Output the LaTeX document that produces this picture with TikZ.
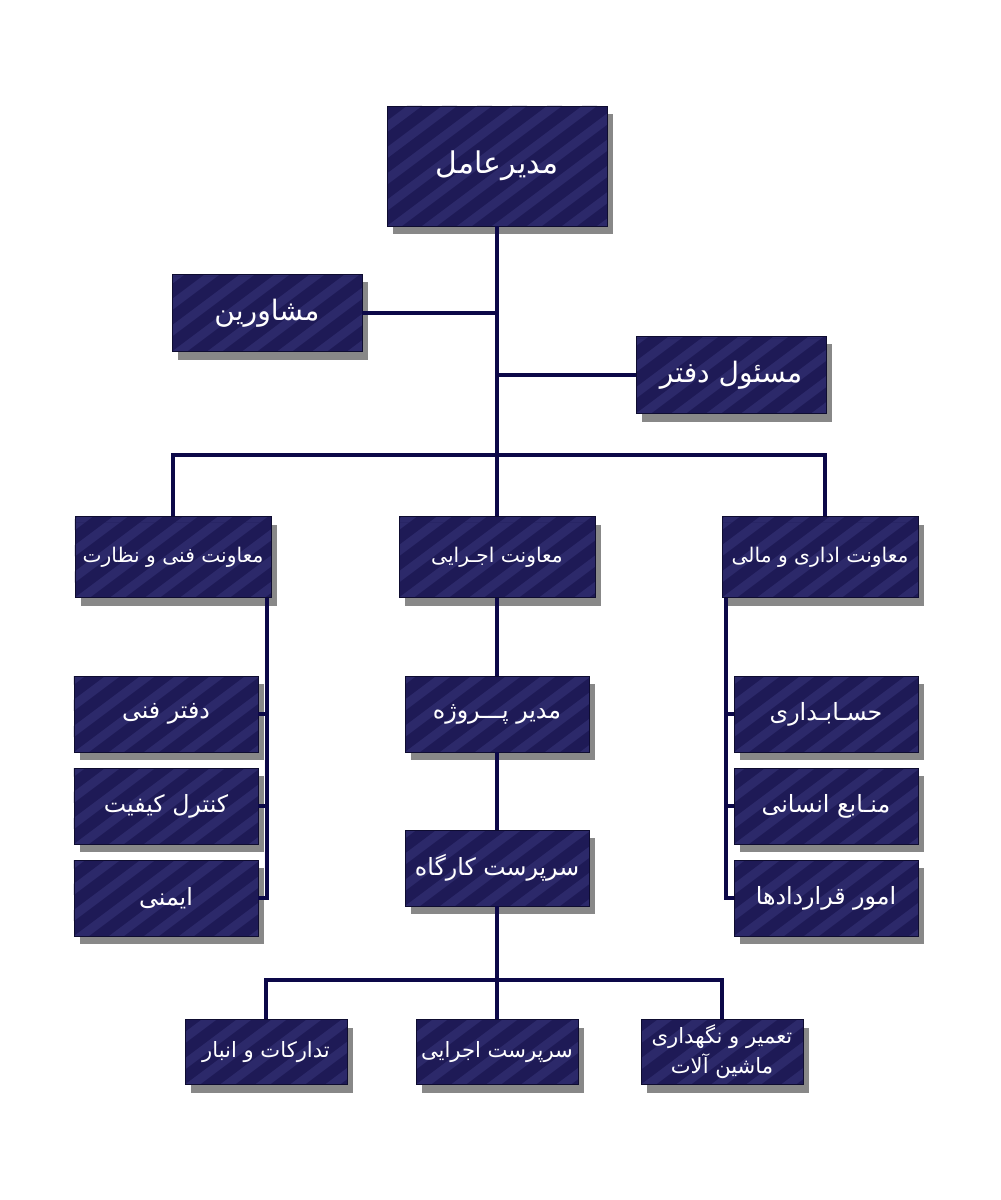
\documentclass[tikz,border=0pt]{standalone}
\usepackage{fontspec}
\newfontfamily\farsi[Script=Arabic]{DejaVu Sans}
\TeXXeTstate=1
\usetikzlibrary{shadows}
\newcommand{\fatext}[1]{\beginR #1\endR}
\definecolor{boxblue}{RGB}{30,26,86}
\definecolor{stripeblue}{RGB}{44,41,106}
\definecolor{edgeblue}{RGB}{14,12,48}
\definecolor{linkblue}{RGB}{12,8,72}
\definecolor{shadowgray}{RGB}{136,136,136}
\begin{document}
\begin{tikzpicture}[x=0.2mm, y=-0.2mm,
  orgbox/.style={rectangle, inner sep=0pt, fill=boxblue, draw=edgeblue, line width=0.5pt,
    text=white, align=center, font=\farsi\fontsize{13.5}{17}\selectfont,
    drop shadow={shadow xshift=1.2mm, shadow yshift=-1.6mm, fill=shadowgray, opacity=1},
    path picture={
      \foreach \k in {-5,...,8}
        \fill[stripeblue] ([xshift=\k*7mm]path picture bounding box.south west)
          -- ++(3mm,0) -- ++(20mm,15mm) -- ++(-3mm,0) -- cycle;
      \foreach \k in {-5,...,8}
        \fill[stripeblue] ([xshift=\k*7mm+20mm,yshift=15mm]path picture bounding box.south west)
          -- ++(3mm,0) -- ++(12mm,9mm) -- ++(-3mm,0) -- cycle;
    }},
  topbox/.style={orgbox, minimum width=44mm, minimum height=24mm, font=\farsi\fontsize{17}{20}\selectfont},
  sidebox/.style={orgbox, minimum width=38mm, minimum height=15.4mm, font=\farsi\fontsize{16}{19}\selectfont},
  deputybox/.style={orgbox, minimum width=39.2mm, minimum height=16.2mm, font=\farsi\fontsize{11.5}{14}\selectfont},
  unitbox/.style={orgbox, minimum width=36.8mm, minimum height=15.2mm},
  lowbox/.style={orgbox, minimum width=32.4mm, minimum height=13mm, font=\farsi\fontsize{12}{17}\selectfont},
  link/.style={draw=linkblue, line width=0.8mm}]
\useasboundingbox (0,0) rectangle (1000,1200);

\node [topbox] (ceo) at (497,166) {\fatext{مدیرعامل}};
\node [sidebox] (advisors) at (267,313) {\fatext{مشاورین}};
\node [sidebox] (office) at (731,375) {\fatext{مسئول دفتر}};

\node [deputybox] (technical) at (173,557) {\fatext{معاونت فنی و نظارت}};
\node [deputybox] (executive) at (497,557) {\fatext{معاونت اجـرایی}};
\node [deputybox] (admin) at (820,557) {\fatext{معاونت اداری و مالی}};

\node [unitbox] (techoffice) at (166,714) {\fatext{دفتر فنی}};
\node [unitbox] (quality) at (166,806) {\fatext{کنترل کیفیت}};
\node [unitbox] (safety) at (166,898) {\fatext{ایمنی}};

\node [unitbox] (project) at (497,714) {\fatext{مدیر پـــروژه}};
\node [unitbox] (site) at (497,868) {\fatext{سرپرست کارگاه}};

\node [unitbox] (accounting) at (826,714) {\fatext{حسـابـداری}};
\node [unitbox] (hr) at (826,806) {\fatext{منـابع انسانی}};
\node [unitbox] (contracts) at (826,898) {\fatext{امور قراردادها}};

\node [lowbox] (supply) at (266,1052) {\fatext{تدارکات و انبار}};
\node [lowbox] (works) at (497,1052) {\fatext{سرپرست اجرایی}};
\node [lowbox] (repair) at (722,1052) {\fatext{تعمیر و نگهداری}\\\fatext{ماشین آلات}};

\coordinate (topbus) at (497,455);
\coordinate (lowbus) at (497,980);
\coordinate (leftcol) at (267,598);
\coordinate (rightcol) at (726,598);

\draw [link] (ceo.south) -- (executive.north);
\draw [link] (advisors.east) -- (advisors.east -| ceo.south);
\draw [link] (office.west) -- (office.west -| ceo.south);
\draw [link] (technical.north) |- (topbus) -| ([xshift=1mm]admin.north);

\draw [link] (executive.south) -- (project.north);
\draw [link] (project.south) -- (site.north);
\draw [link] (site.south) -- (lowbus);
\draw [link] (supply.north) |- (lowbus) -| (repair.north);
\draw [link] (lowbus) -- (works.north);

\draw [link] (leftcol) |- (safety.east);
\draw [link] (leftcol |- techoffice.east) -- (techoffice.east);
\draw [link] (leftcol |- quality.east) -- (quality.east);

\draw [link] (rightcol) |- (contracts.west);
\draw [link] (rightcol |- accounting.west) -- (accounting.west);
\draw [link] (rightcol |- hr.west) -- (hr.west);
\end{tikzpicture}
\end{document}
